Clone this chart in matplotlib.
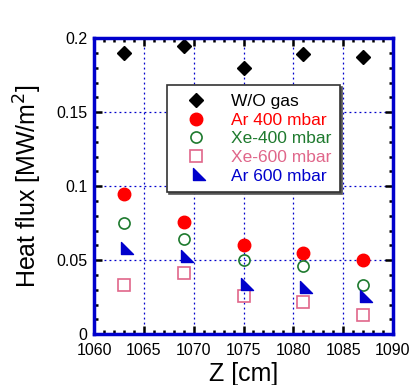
import matplotlib
matplotlib.use('Agg')
import matplotlib.pyplot as plt
from matplotlib.ticker import MultipleLocator
from matplotlib.path import Path

plt.rcParams['font.family'] = ['Liberation Sans', 'DejaVu Sans']

z = [1063, 1069, 1075, 1081, 1087]
wo_gas = [0.190, 0.195, 0.180, 0.189, 0.187]
ar_400 = [0.095, 0.076, 0.060, 0.055, 0.050]
xe_400 = [0.075, 0.064, 0.050, 0.046, 0.033]
xe_600 = [0.033, 0.041, 0.026, 0.022, 0.013]
ar_600 = [0.058, 0.053, 0.034, 0.032, 0.026]

# right triangle marker, vertical side on the left
tri = Path([(-3, 5.5), (-3, -5.5), (9, -5.5), (-3, 5.5)],
           [Path.MOVETO, Path.LINETO, Path.LINETO, Path.CLOSEPOLY])

blue = '#0000cc'
green = '#1e7a2e'
pink = '#e0668a'

fig = plt.figure(figsize=(4.11, 3.85), dpi=100)
ax = fig.add_axes([0.229, 0.132, 0.727, 0.769])

ax.plot(z, wo_gas, ls='none', marker='D', ms=7.5, color='black', label='W/O gas')
ax.plot(z, ar_400, ls='none', marker='o', ms=9, color='red', label='Ar 400 mbar')
ax.plot(z, xe_400, ls='none', marker='o', ms=8, mfc='none', mec=green, mew=1.2,
        label='Xe-400 mbar')
ax.plot(z, xe_600, ls='none', marker='s', ms=9, mfc='none', mec=pink, mew=1.2,
        label='Xe-600 mbar')
ax.plot(z, ar_600, ls='none', marker=tri, ms=13, color=blue, label='Ar 600 mbar')

ax.set_xlim(1060, 1090)
ax.set_ylim(0, 0.2)
ax.xaxis.set_major_locator(MultipleLocator(5))
ax.xaxis.set_minor_locator(MultipleLocator(1))
ax.yaxis.set_major_locator(MultipleLocator(0.05))
ax.yaxis.set_minor_locator(MultipleLocator(0.01))
ax.set_yticks([0, 0.05, 0.1, 0.15, 0.2])
ax.set_yticklabels(['0', '0.05', '0.1', '0.15', '0.2'])

ax.tick_params(which='both', direction='in', top=True, right=True, labelsize=11.5)
ax.tick_params(which='major', length=6, width=1.8)
ax.tick_params(which='minor', length=3, width=1.8)
ax.tick_params(axis='x', pad=6)
ax.tick_params(axis='y', pad=5)
ax.grid(True, which='major', color=blue, ls=(0, (1.5, 2.5)), lw=0.9)

for s in ax.spines.values():
    s.set_color(blue)
    s.set_linewidth(2.5)

ax.set_xlabel('Z [cm]', fontsize=18, labelpad=3)
ax.set_ylabel('Heat flux [MW/m$^2$]', fontsize=18, labelpad=9)

leg = ax.legend(loc='upper left', bbox_to_anchor=(0.244, 0.841), fontsize=12.5,
                fancybox=False, framealpha=1, edgecolor='#333333',
                shadow={'ox': 1.5, 'oy': -1.5, 'color': '#555555', 'alpha': 1},
                borderaxespad=0, borderpad=0.5, labelspacing=0.2,
                handletextpad=0.9, handlelength=2.3)
leg.get_frame().set_linewidth(1.2)
for txt, c in zip(leg.get_texts(), ['black', 'red', green, pink, blue]):
    txt.set_color(c)

fig.savefig('out.png', dpi=100)
